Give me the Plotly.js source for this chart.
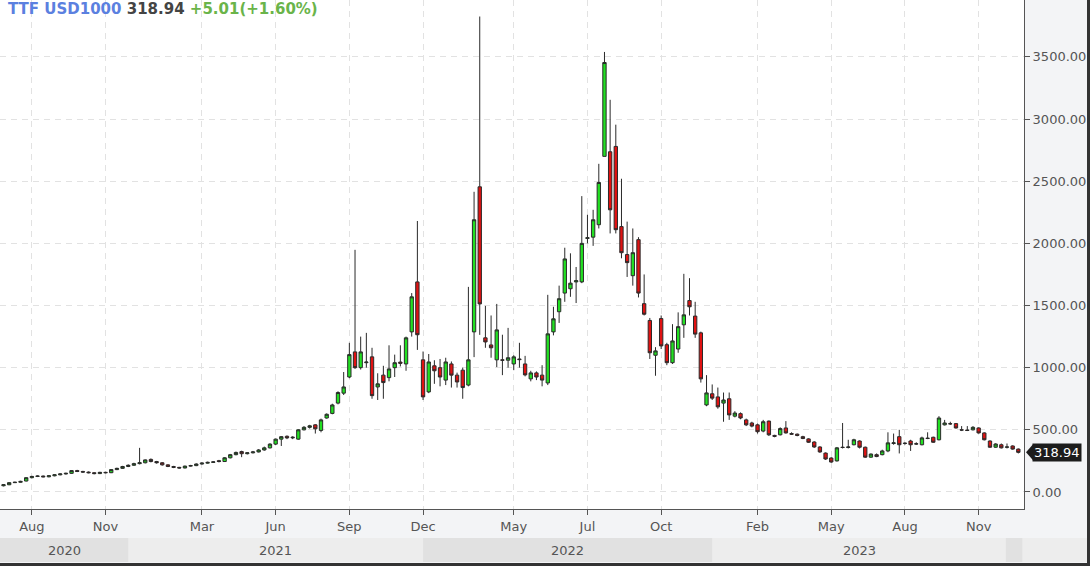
<!DOCTYPE html>
<html>
<head>
<meta charset="utf-8">
<script src="https://cdn.plot.ly/plotly-3.0.1.min.js"></script>
<style>
  html, body { margin: 0; padding: 0; background: #f3f4f6; }
  #plot { width: 1090px; height: 566px; }
</style>
</head>
<body>
<div id="plot"></div>
<script>
// weekly TTF candles, Jul 2020 - Dec 2023
const open = [
  50, 58, 75, 78, 88, 115, 125, 128, 122, 130, 138, 145, 150, 172, 165, 160, 155, 148, 158, 155,
  180, 190, 205, 215, 228, 235, 262, 245, 235, 218, 205, 198, 193, 208, 212, 225, 232, 238, 252, 245,
  275, 300, 325, 308, 315, 322, 338, 355, 385, 425, 448, 435, 425, 500, 520, 540, 495, 595, 632, 715,
  795, 925, 1127, 1000, 1040, 1087, 845, 940, 920, 1000, 1045, 1030, 1288, 1690, 1063, 805, 1015, 1000, 900, 1030,
  940, 980, 860, 1288, 2455, 1240, 1183, 1063, 1063, 1060, 1030, 1070, 1030, 910, 958, 940, 877, 1288, 1450, 1600,
  1635, 1690, 1690, 2040, 2050, 2150, 2700, 2737, 2780, 2135, 1910, 1740, 2030, 1515, 1380, 1100, 1395, 1185, 1040, 1150,
  1345, 1540, 1415, 1280, 700, 790, 765, 715, 750, 610, 630, 580, 555, 540, 490, 570, 455, 460, 515, 470,
  465, 445, 427, 402, 362, 313, 273, 250, 360, 358, 380, 410, 360, 280, 300, 300, 330, 390, 445, 390,
  410, 385, 380, 430, 440, 420, 540, 550, 550, 500, 498, 500, 515, 475, 410, 360, 380, 360, 370, 345
];
const high = [
  62, 78, 82, 90, 118, 130, 133, 132, 135, 142, 150, 155, 176, 178, 170, 165, 160, 162, 163, 184,
  195, 210, 222, 235, 355, 262, 270, 250, 240, 222, 210, 202, 212, 218, 230, 238, 244, 248, 258, 280,
  306, 325, 332, 320, 330, 345, 365, 392, 430, 450, 455, 448, 505, 530, 540, 545, 590, 632, 710, 810,
  965, 1200, 1948, 1250, 1280, 1160, 955, 1015, 1180, 1105, 1180, 1250, 1600, 2180, 1130, 1110, 1060, 1070, 1080, 1050,
  960, 1000, 1650, 2415, 3825, 1497, 1420, 1513, 1265, 1320, 1100, 1200, 1095, 975, 970, 1020, 1586, 1490, 1660, 1965,
  1920, 1810, 2380, 2230, 2270, 2640, 3540, 3155, 2955, 2520, 2175, 2120, 2050, 1750, 1400, 1165, 1420, 1200, 1350, 1445,
  1755, 1720, 1530, 1290, 940, 865, 840, 800, 800, 650, 640, 590, 565, 550, 580, 575, 460, 520, 570, 480,
  470, 452, 432, 408, 368, 318, 280, 362, 555, 420, 428, 415, 365, 310, 310, 340, 480, 470, 500, 400,
  420, 400, 445, 480, 445, 610, 580, 565, 555, 530, 530, 530, 520, 480, 415, 392, 390, 390, 375, 350
];
const low = [
  45, 55, 72, 75, 85, 110, 120, 118, 118, 126, 134, 140, 146, 160, 155, 150, 142, 144, 150, 152,
  176, 186, 200, 210, 222, 230, 238, 228, 212, 200, 192, 188, 190, 204, 208, 220, 228, 234, 238, 242,
  270, 295, 280, 302, 310, 318, 332, 350, 378, 370, 425, 425, 420, 495, 510, 470, 480, 590, 625, 705,
  780, 915, 990, 985, 1000, 750, 740, 750, 890, 925, 1010, 975, 1250, 1143, 740, 795, 870, 850, 860, 840,
  840, 750, 850, 1085, 1264, 1160, 1080, 1005, 940, 1000, 980, 1000, 930, 890, 900, 850, 860, 1260, 1360, 1530,
  1570, 1520, 1680, 2000, 1980, 2120, 2700, 2080, 2080, 1880, 1730, 1660, 1565, 1420, 1070, 935, 1150, 1020, 1030, 1120,
  1240, 1420, 1240, 880, 690, 740, 670, 565, 580, 600, 585, 530, 520, 470, 480, 450, 440, 455, 470, 460,
  448, 425, 395, 355, 315, 258, 235, 245, 350, 350, 375, 350, 275, 275, 280, 295, 320, 380, 310, 380,
  330, 378, 375, 425, 395, 415, 535, 540, 510, 490, 490, 495, 470, 415, 355, 355, 350, 350, 340, 310
];
const close = [
  58, 75, 78, 85, 115, 125, 128, 122, 130, 138, 145, 150, 172, 165, 160, 155, 148, 158, 155, 180,
  190, 205, 215, 228, 235, 258, 245, 235, 218, 205, 198, 193, 208, 212, 225, 232, 238, 242, 245, 275,
  300, 318, 308, 315, 322, 338, 355, 385, 425, 445, 435, 440, 500, 520, 532, 508, 580, 625, 700, 800,
  845, 1105, 1000, 1127, 1045, 775, 870, 880, 990, 1040, 1035, 1240, 1570, 1265, 765, 1046, 975, 925, 1046, 940,
  885, 840, 1063, 2190, 1513, 1207, 1160, 1304, 1060, 1080, 1087, 1065, 942, 958, 925, 900, 1272, 1393, 1555, 1875,
  1680, 1700, 2000, 2045, 2190, 2490, 3455, 2270, 2110, 1925, 1845, 1925, 1600, 1430, 1120, 1135, 1175, 1040, 1215, 1330,
  1425, 1490, 1270, 910, 797, 755, 685, 740, 620, 635, 595, 540, 530, 485, 565, 460, 448, 510, 475, 465,
  455, 430, 400, 362, 322, 265, 241, 355, 358, 362, 420, 360, 280, 305, 285, 330, 395, 395, 380, 392,
  380, 388, 435, 432, 400, 595, 555, 548, 515, 498, 495, 520, 475, 420, 360, 386, 355, 362, 345, 318.94
];

// month labels sit on the first candle of the month
const tickIdx = [5, 18, 35, 48, 61, 74, 90, 103, 116, 133, 146, 159, 172];
const tickText = ['Aug', 'Nov', 'Mar', 'Jun', 'Sep', 'Dec', 'May', 'Jul', 'Oct', 'Feb', 'May', 'Aug', 'Nov'];

// year strip under the axis: [from, to] in candle index
const years = ['2020', '2021', '2022', '2023'];
const yearStart = [-0.62, 22, 74, 125];
const yearEnd = [22, 74, 125, 176.8];

const dayChange = 5.01;
const dayChangePct = 1.60;

const weeks = open.map((_, i) => i);
const last = close[close.length - 1];

const trace = {
  type: 'candlestick',
  x: weeks,
  open: open,
  high: high,
  low: low,
  close: close,
  increasing: { line: { color: '#2a2a2a', width: 1 }, fillcolor: '#22e022' },
  decreasing: { line: { color: '#2a2a2a', width: 1 }, fillcolor: '#e01212' },
  whiskerwidth: 0,
  hoverinfo: 'skip',
};

// band row in paper units (plot area is 509px tall)
const bandTop = (509 - 538) / 509;
const bandBot = (509 - 562) / 509;

const shapes = [
  // light base of the year strip
  { type: 'rect', xref: 'paper', yref: 'paper', x0: 0, x1: 1087 / 1024, y0: bandBot, y1: bandTop,
    fillcolor: '#ededed', line: { width: 0 }, layer: 'below' },
  // borders
  { type: 'rect', xref: 'paper', yref: 'paper', x0: 1087 / 1024, x1: 1.08, y0: -0.13, y1: 1.01,
    fillcolor: '#333', line: { width: 0 } },
  { type: 'rect', xref: 'paper', yref: 'paper', x0: 0, x1: 1.08, y0: (509 - 563) / 509, y1: -0.13,
    fillcolor: '#333', line: { width: 0 } },
  // arrow of the last price tag
  { type: 'path', xref: 'paper', xsizemode: 'pixel', xanchor: 1, yref: 'y', ysizemode: 'pixel', yanchor: last,
    path: 'M2,0 L9,8 L9,-8 Z', fillcolor: '#1c1c1c', line: { width: 0 } },
];
years.forEach((y, k) => {
  if (k % 2 === 0) {
    shapes.push({ type: 'rect', xref: 'x', yref: 'paper', x0: yearStart[k], x1: yearEnd[k], y0: bandBot, y1: bandTop,
      fillcolor: '#e1e1e1', line: { width: 0 }, layer: 'below' });
  }
});
// the few weeks of the next year
shapes.push({ type: 'rect', xref: 'x', yref: 'paper', x0: 176.8, x1: 179.7, y0: bandBot, y1: bandTop,
  fillcolor: '#e1e1e1', line: { width: 0 }, layer: 'below' });

const annotations = years.map((y, k) => ({
  xref: 'x', yref: 'paper',
  x: (yearStart[k] + yearEnd[k]) / 2, y: (509 - 550) / 509,
  text: y, showarrow: false, yanchor: 'middle',
  font: { family: 'DejaVu Sans', size: 13, color: '#555' },
}));

annotations.push({
  xref: 'paper', yref: 'paper', x: 0, y: 1, xanchor: 'left', yanchor: 'top',
  xshift: 6, yshift: 2, showarrow: false,
  text: '<b><span style="color:#5b80e0">TTF USD1000</span> ' +
        '<span style="color:#444">' + last.toFixed(2) + '</span> ' +
        '<span style="color:#6ab44a">+' + dayChange.toFixed(2) + '(+' + dayChangePct.toFixed(2) + '%)</span></b>',
  font: { family: 'DejaVu Sans', size: 15 },
});

annotations.push({
  xref: 'paper', yref: 'y', x: 1, y: last, xanchor: 'left', yanchor: 'middle',
  xshift: 8, showarrow: false,
  text: last.toFixed(2), bgcolor: '#1c1c1c', borderpad: 1,
  font: { family: 'DejaVu Sans', size: 13, color: '#fff' },
});

const layout = {
  width: 1090,
  height: 566,
  margin: { l: 0, r: 66, t: 0, b: 57 },
  paper_bgcolor: '#f3f4f6',
  plot_bgcolor: '#ffffff',
  showlegend: false,
  boxgap: 0.16,
  font: { family: 'DejaVu Sans', size: 13, color: '#555' },
  xaxis: {
    range: [-0.62, 180.0],
    tickmode: 'array',
    tickvals: tickIdx,
    ticktext: tickText,
    ticks: 'outside',
    ticklen: 5,
    tickcolor: '#555',
    showline: true,
    linecolor: '#555',
    gridcolor: '#e2e2e2',
    griddash: '6px,5px',
    zeroline: false,
    rangeslider: { visible: false },
    fixedrange: true,
  },
  yaxis: {
    side: 'right',
    range: [-137, 3958],
    tickmode: 'array',
    tickvals: [0, 500, 1000, 1500, 2000, 2500, 3000, 3500],
    tickformat: '.2f',
    ticks: 'outside',
    ticklen: 5,
    tickcolor: '#555',
    showline: true,
    linecolor: '#555',
    gridcolor: '#e2e2e2',
    griddash: '6px,5px',
    zeroline: false,
    fixedrange: true,
  },
  shapes: shapes,
  annotations: annotations,
  dragmode: false,
};

const config = {
  displayModeBar: false,
  scrollZoom: false,
};

Plotly.newPlot('plot', [trace], layout, config);
</script>
</body>
</html>
